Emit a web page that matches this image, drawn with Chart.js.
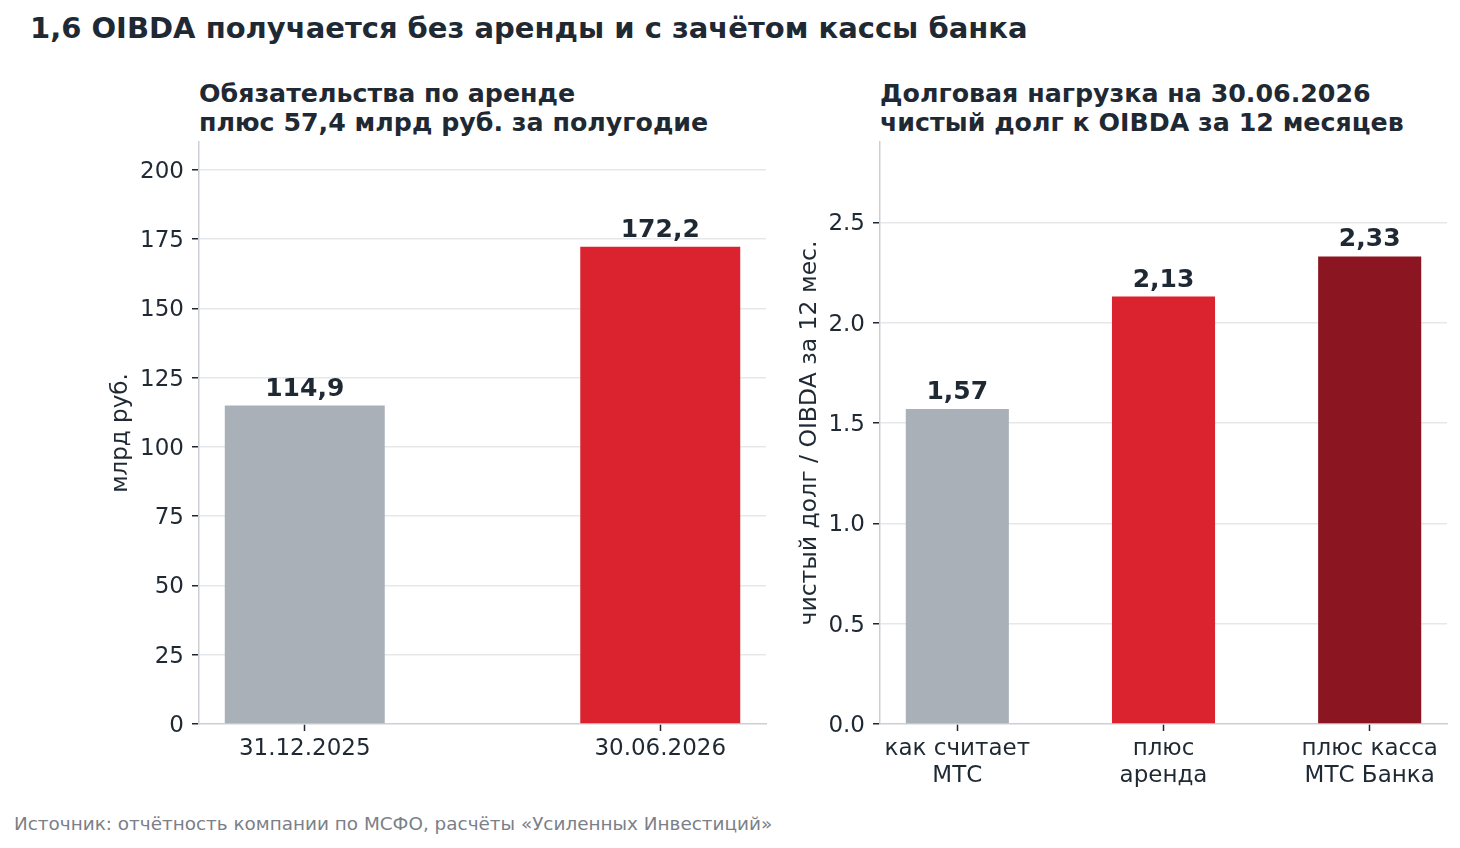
<!DOCTYPE html>
<html lang="ru">
<head>
<meta charset="utf-8">
<title>OIBDA</title>
<script src="https://cdn.jsdelivr.net/npm/chart.js@4.4.1/dist/chart.umd.min.js"></script>
<style>
  html, body { margin: 0; padding: 0; background: #fff; }
  body { width: 1460px; height: 848px; position: relative; overflow: hidden;
         font-family: 'DejaVu Sans', sans-serif; color: #1f2933; }
  .title { position: absolute; left: 30px; top: 14px; font-size: 29px; font-weight: bold; line-height: 29px; white-space: nowrap; }
  .sub { position: absolute; top: 79px; font-size: 25.3px; font-weight: bold; line-height: 29px; white-space: nowrap; }
  .source { position: absolute; left: 14px; top: 815px; font-size: 18.4px; line-height: 18px; color: #7b8088; white-space: nowrap; }
  .box { position: absolute; top: 130px; width: 680px; height: 680px; }
</style>
</head>
<body>
<div class="title">1,6 OIBDA получается без аренды и с зачётом кассы банка</div>
<div class="sub" style="left:199px">Обязательства по аренде<br>плюс 57,4 млрд руб. за полугодие</div>
<div class="sub" style="left:880px">Долговая нагрузка на 30.06.2026<br>чистый долг к OIBDA за 12 месяцев</div>
<div class="box" style="left:100px"><canvas id="leaseChart"></canvas></div>
<div class="box" style="left:780px"><canvas id="debtChart"></canvas></div>
<div class="source">Источник: отчётность компании по МСФО, расчёты «Усиленных Инвестиций»</div>

<script>
// данные: обязательства по аренде, млрд руб.
const leaseDates = ['31.12.2025', '30.06.2026'];
const leaseValues = [114.9, 172.2];
const leaseLabels = ['114,9', '172,2'];

// данные: чистый долг / OIBDA
const debtCategories = [['как считает', 'МТС'], ['плюс', 'аренда'], ['плюс касса', 'МТС Банка']];
const debtValues = [1.57, 2.13, 2.33];
const debtLabels = ['1,57', '2,13', '2,33'];

const TEXT = '#1f2933';
const SPINE = '#ccd0d5';
const GRID = '#e5e7ea';

Chart.defaults.font.family = "'DejaVu Sans', sans-serif";
Chart.defaults.color = TEXT;

// подписи значений над столбиками
const valueLabels = {
    id: 'valueLabels',
    afterDatasetsDraw(chart, args, opts) {
        const ctx = chart.ctx;
        const meta = chart.getDatasetMeta(0);
        ctx.save();
        ctx.font = 'bold 25px "DejaVu Sans"';
        ctx.fillStyle = TEXT;
        ctx.textAlign = 'center';
        ctx.textBaseline = 'alphabetic';
        meta.data.forEach((bar, i) => {
            ctx.fillText(opts.labels[i], bar.x, bar.y - 10);
        });
        ctx.restore();
    }
};

function makeChart(canvasId, cfg) {
    const points = cfg.values.map((v, i) => ({ x: i, y: v }));
    return new Chart(document.getElementById(canvasId), {
        type: 'bar',
        data: {
            datasets: [{
                data: points,
                backgroundColor: cfg.colors,
                borderWidth: 0,
                categoryPercentage: 1,
                barPercentage: cfg.barWidth
            }]
        },
        plugins: [valueLabels],
        options: {
            responsive: true,
            maintainAspectRatio: false,
            animation: false,
            layout: { padding: { top: 12, right: cfg.rightPad, left: 0, bottom: 0 } },
            scales: {
                x: {
                    type: 'linear',
                    offset: false,
                    min: cfg.xMin,
                    max: cfg.xMax,
                    afterBuildTicks(scale) {
                        scale.ticks = cfg.values.map((v, i) => ({ value: i }));
                    },
                    afterFit(scale) {
                        scale.height = 86;
                        scale.paddingLeft = 0;
                        scale.paddingRight = 0;
                    },
                    ticks: {
                        autoSkip: false,
                        maxRotation: 0,
                        padding: 5,
                        font: { size: 23, lineHeight: 1.15 },
                        callback: (value) => cfg.categories[value]
                    },
                    grid: { offset: false, drawOnChartArea: false, drawTicks: true, tickLength: 7, tickColor: TEXT, tickWidth: 1.5 },
                    border: { color: SPINE, width: 1.5 }
                },
                y: {
                    min: 0,
                    max: cfg.yMax,
                    afterBuildTicks(scale) {
                        scale.ticks = scale.ticks.filter(t => t.value <= cfg.yTop + 1e-9);
                    },
                    afterFit(scale) {
                        scale.width = cfg.yWidth;
                        scale.paddingTop = 0;
                        scale.paddingBottom = 0;
                    },
                    ticks: {
                        stepSize: cfg.yStep,
                        padding: 8,
                        labelOffset: 2,
                        font: { size: 23 },
                        callback: cfg.yFormat
                    },
                    grid: {
                        color: (c) => (c.tick && c.tick.value === 0 ? 'rgba(0,0,0,0)' : GRID),
                        lineWidth: 1.5,
                        drawTicks: true,
                        tickLength: 7,
                        tickColor: TEXT,
                        tickWidth: 1.5
                    },
                    border: { color: SPINE, width: 1.5 },
                    title: {
                        display: true,
                        text: cfg.yTitle,
                        font: { size: cfg.yTitleSize },
                        padding: { top: cfg.yTitlePad, bottom: 0 }
                    }
                }
            },
            plugins: {
                legend: { display: false },
                tooltip: { enabled: false },
                valueLabels: { labels: cfg.labels }
            }
        }
    });
}

makeChart('leaseChart', {
    values: leaseValues,
    labels: leaseLabels,
    categories: leaseDates,
    colors: ['#a9b0b8', '#da232f'],
    barWidth: 0.45,
    xMin: -0.2975, xMax: 1.2975,
    yMax: 210, yTop: 200, yStep: 25,
    yFormat: (v) => String(v),
    yTitle: 'млрд руб.',
    yTitleSize: 23,
    yWidth: 99, yTitlePad: 7,
    rightPad: 14
});

makeChart('debtChart', {
    values: debtValues,
    labels: debtLabels,
    categories: debtCategories,
    colors: ['#a9b0b8', '#da232f', '#8b1520'],
    barWidth: 0.5,
    xMin: -0.375, xMax: 2.375,
    yMax: 2.9, yTop: 2.5, yStep: 0.5,
    yFormat: (v) => Number(v).toFixed(1),
    yTitle: 'чистый долг / OIBDA за 12 мес.',
    yTitleSize: 23.5,
    yWidth: 100, yTitlePad: 16,
    rightPad: 13
});
</script>
</body>
</html>
